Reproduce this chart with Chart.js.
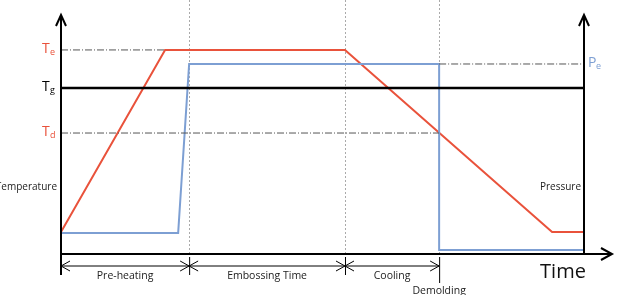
<!DOCTYPE html>
<html><head><meta charset="utf-8">
<script src="https://cdn.jsdelivr.net/npm/chart.js@4/dist/chart.umd.min.js"></script>
<style>html,body{margin:0;padding:0;background:#fff;}canvas{display:block;}</style>
</head><body>
<canvas id="c" width="618" height="295"></canvas>
<script>
// Time axis runs 0..10 (arbitrary units), level axis 0..100 (arbitrary units)
const tempTimes = [0, 1.99, 5.43, 9.39, 10];
const tempValues = [9.4, 87.2, 87.2, 9.4, 9.4];
const pressTimes = [0, 2.24, 2.45, 7.23, 7.23, 10];
const pressValues = [9.0, 9.0, 81.2, 81.2, 1.7, 1.7];
const levelNames = ["e", "g", "d"];           // subscripts of T
const levelValues = [87.2, 70.9, 51.7];       // Te, Tg, Td
const pressureLevel = 81.2;                    // Pe
const phaseBounds = [0, 2.45, 5.43, 7.23];
const phaseLabels = ["Pre-heating", "Embossing Time", "Cooling"];
const demoldLabel = "Demolding";

const RED = "#e9523b", BLUE = "#7d9fd3", DASH = "#555555";
const pts = (xs, ys) => xs.map((x, i) => ({x, y: ys[i]}));

const datasets = [
  {data: pts([0, tempTimes[1]], [levelValues[0], levelValues[0]]), borderColor: DASH, borderWidth: 1, borderDash: [7, 2, 1, 2]},
  {data: pts([0, phaseBounds[3]], [levelValues[2], levelValues[2]]), borderColor: DASH, borderWidth: 1, borderDash: [7, 2, 1, 2]},
  {data: pts([phaseBounds[3], 10], [pressureLevel, pressureLevel]), borderColor: DASH, borderWidth: 1, borderDash: [7, 2, 1, 2]},
  {data: pts([0, 10], [levelValues[1], levelValues[1]]), borderColor: "#000", borderWidth: 2.5},
  {data: pts(pressTimes, pressValues), borderColor: BLUE, borderWidth: 2},
  {data: pts(tempTimes, tempValues), borderColor: RED, borderWidth: 2},
];

const deco = {
  id: "deco",
  beforeDatasetsDraw(chart) {
    const {ctx, scales: {x, y}} = chart;
    ctx.save();
    ctx.strokeStyle = "#aaaaaa"; ctx.lineWidth = 1; ctx.setLineDash([2, 2]);
    for (let i = 1; i < phaseBounds.length; i++) {
      const px = Math.round(x.getPixelForValue(phaseBounds[i])) + 0.5;
      ctx.beginPath(); ctx.moveTo(px, 0); ctx.lineTo(px, y.getPixelForValue(0)); ctx.stroke();
    }
    ctx.restore();
  },
  afterDraw(chart) {
    const {ctx, scales: {x, y}} = chart;
    const x0 = x.getPixelForValue(0), x1 = x.getPixelForValue(10);
    const y0 = y.getPixelForValue(0), yTop = y.getPixelForValue(100) - 5;
    ctx.save();
    ctx.strokeStyle = "#000"; ctx.lineWidth = 2; ctx.setLineDash([]);
    ctx.lineCap = "butt";
    // axes
    ctx.beginPath();
    ctx.moveTo(x0, yTop); ctx.lineTo(x0, y0 + 21);
    ctx.moveTo(x1, yTop); ctx.lineTo(x1, y0);
    ctx.moveTo(x0, y0); ctx.lineTo(x1 + 28, y0);
    ctx.stroke();
    // arrow heads
    ctx.beginPath();
    [x0, x1].forEach(ax => { ctx.moveTo(ax - 5, yTop + 11); ctx.lineTo(ax, yTop); ctx.lineTo(ax + 5, yTop + 11); });
    ctx.moveTo(x1 + 17, y0 - 6); ctx.lineTo(x1 + 28, y0); ctx.lineTo(x1 + 17, y0 + 6);
    ctx.stroke();
    // dimension row
    const ya = y0 + 12;
    ctx.lineWidth = 1;
    const bx = phaseBounds.map(v => x.getPixelForValue(v));
    ctx.beginPath();
    ctx.moveTo(bx[0], ya); ctx.lineTo(bx[3], ya);
    for (let i = 1; i < bx.length; i++) { ctx.moveTo(bx[i] + 0.5, y0 + 3); ctx.lineTo(bx[i] + 0.5, i === 3 ? y0 + 29 : y0 + 21); }
    for (let i = 0; i < 3; i++) {
      const a = bx[i], b = bx[i + 1];
      ctx.moveTo(a + 9, ya - 5); ctx.lineTo(a, ya); ctx.lineTo(a + 9, ya + 5);
      ctx.moveTo(b - 9, ya - 5); ctx.lineTo(b, ya); ctx.lineTo(b - 9, ya + 5);
    }
    ctx.stroke();
    // labels
    ctx.fillStyle = "#222";
    ctx.font = "10.5px 'Open Sans'";
    ctx.textAlign = "center"; ctx.textBaseline = "middle";
    for (let i = 0; i < 3; i++) ctx.fillText(phaseLabels[i], (bx[i] + bx[i + 1]) / 2, y0 + 22);
    ctx.fillText(demoldLabel, bx[3], y0 + 37);
    ctx.font = "10px 'Open Sans'";
    ctx.textAlign = "right";
    ctx.fillText("Temperature", x0 - 4, y.getPixelForValue(28.6));
    ctx.fillText("Pressure", x1 - 3, y.getPixelForValue(28.6));
    ctx.textAlign = "center";
    ctx.font = "20px 'Open Sans'";
    ctx.fillStyle = "#111";
    ctx.fillText("Time", x1 - 21, y0 + 18);
    // level labels
    const colors = [RED, "#000", RED];
    levelNames.forEach((n, i) => {
      const py = y.getPixelForValue(levelValues[i]);
      ctx.fillStyle = colors[i];
      ctx.textAlign = "left";
      ctx.font = "14px 'Open Sans'";
      ctx.fillText("T", x0 - 19, py - 1);
      ctx.font = "9px 'Open Sans'";
      ctx.fillText(n, x0 - 11, py + 2);
    });
    const pp = y.getPixelForValue(pressureLevel);
    ctx.fillStyle = BLUE; ctx.textAlign = "left";
    ctx.font = "14px 'Open Sans'"; ctx.fillText("P", x1 + 4, pp - 1);
    ctx.font = "9px 'Open Sans'"; ctx.fillText("e", x1 + 12, pp + 2);
    ctx.restore();
  }
};

new Chart(document.getElementById("c"), {
  type: "line",
  data: {datasets: datasets.map(d => Object.assign({pointRadius: 0, tension: 0, fill: false}, d))},
  options: {
    responsive: false, animation: false,
    layout: {padding: {left: 61, right: 34, top: 20, bottom: 41}},
    plugins: {legend: {display: false}, tooltip: {enabled: false}},
    scales: {
      x: {type: "linear", min: 0, max: 10, display: false},
      y: {min: 0, max: 100, display: false}
    }
  },
  plugins: [deco]
});
</script>
</body></html>
